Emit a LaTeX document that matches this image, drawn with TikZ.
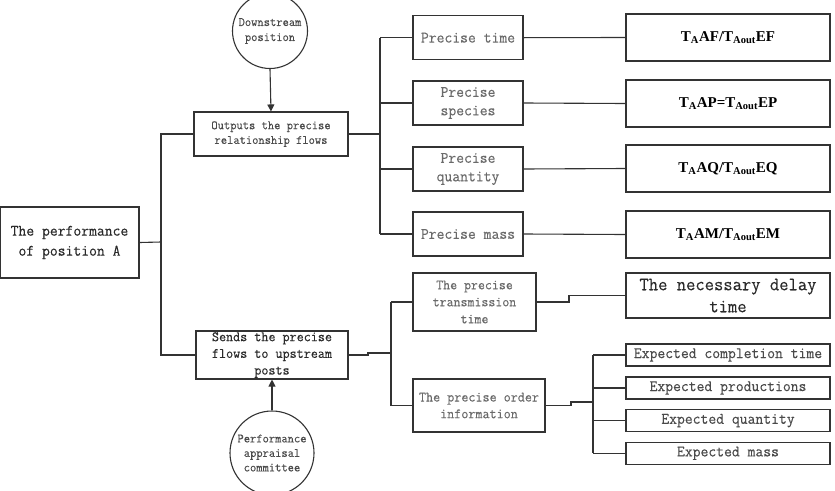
\documentclass[tikz,border=0pt]{standalone}
\usepackage{fontspec}
\setmainfont{Liberation Serif}
\newfontfamily\mono{Latin Modern Mono}[FakeStretch=0.952,FakeBold=0.2]
\usetikzlibrary{arrows.meta}
\definecolor{lc}{HTML}{333333}
\definecolor{tdark}{HTML}{2a2a2a}
\definecolor{tmid}{HTML}{4a4a4a}
\definecolor{tlight}{HTML}{6a6a6a}
\newcommand{\fs}[2]{\fontsize{#1}{#2}\selectfont}
\tikzset{
  bx/.style={draw=lc, line width=1.1pt, inner sep=0pt, align=center, text=tmid},
  cn/.style={draw=lc, line width=1.1pt},
  circ/.style={draw=lc, line width=1.1pt, circle, inner sep=0pt, align=center, text=tmid},
  arr/.style={cn, -{Triangle[length=7pt,width=7pt]}}
}
\begin{document}
\begin{tikzpicture}[x=1pt,y=-1pt]
\useasboundingbox (0,0) rectangle (835,490);
\clip (0,0) rectangle (835,490);
\fill[white] (0,0) rectangle (835,490);

% left box
\node[bx, text=tdark, font=\mono\fs{16}{20}, minimum width=139pt, minimum height=71pt] (L) at (69.5,242.5) {The performance\\of position A};

% middle boxes
\node[bx, font=\mono\fs{12.8}{14.7}, minimum width=154pt, minimum height=44pt] (out) at (271,134) {Outputs the precise\\relationship flows};
\node[bx, text=tdark, font=\mono\fs{14.4}{16.7}, minimum width=152pt, minimum height=48pt] (send) at (272,355) {Sends the precise\\flows to upstream\\posts};

% circles
\node[circ, font=\mono\fs{12.8}{15}, minimum size=75pt] (down) at (270,31) {Downstream\\position};
\node[circ, font=\mono\fs{12.8}{14.5}, minimum size=84pt] (perf) at (272,453) {Performance\\appraisal\\committee};

\draw[arr] (down.south) -- (out.north);
\draw[arr] (perf.north) -- (send.south);

% precise boxes
\tikzset{pbx/.style={bx, text=tlight, font=\mono\fs{16}{18.5}, minimum width=110pt, minimum height=44pt}}
\node[pbx] (p1) at (468,37.7) {Precise time};
\node[pbx] (p2) at (468,103) {Precise\\species};
\node[pbx] (p3) at (468,169) {Precise\\quantity};
\node[pbx] (p4) at (468,234) {Precise mass};

% formula boxes
\tikzset{fbx/.style={bx, font=\bfseries\fs{15}{18}, text=black, minimum width=204pt, minimum height=47pt}}
\node[fbx] (f1) at (728,37.5) {T\textsubscript{A}AF/T\textsubscript{Aout}EF};
\node[fbx] (f2) at (728,103.5) {T\textsubscript{A}AP=T\textsubscript{Aout}EP};
\node[fbx] (f3) at (728,168.5) {T\textsubscript{A}AQ/T\textsubscript{Aout}EQ};
\node[fbx] (f4) at (728,234.5) {T\textsubscript{A}AM/T\textsubscript{Aout}EM};

% lower middle boxes
\node[bx, text=tlight, font=\mono\fs{14.2}{17}, minimum width=123pt, minimum height=58pt] (tt) at (474.5,302) {The precise\\transmission\\time};
\node[bx, text=tlight, font=\mono\fs{14.4}{16.7}, minimum width=132pt, minimum height=53pt] (ord) at (479,405.5) {The precise order\\information};

% delay box
\node[bx, text=tdark, font=\mono\fs{19}{22}, minimum width=204pt, minimum height=45pt] (dly) at (728,295.5) {The necessary delay\\time};

% expected boxes
\tikzset{ebx/.style={bx, text=tmid, font=\mono\fs{16}{18}, minimum width=204pt, minimum height=22pt}}
\node[ebx] (e1) at (728,355) {Expected completion time};
\node[ebx] (e2) at (728,388) {Expected productions};
\node[ebx] (e3) at (728,420.7) {Expected quantity};
\node[ebx] (e4) at (728,453.3) {Expected mass};

% connectors
\coordinate (j1) at (161,242);
\draw[cn] (L.east) -- (j1);
\draw[cn] (out.west) -- (out.west -| j1) -- (send.west -| j1) -- (send.west);

\coordinate (j2) at (380,134);
\draw[cn] (out.east) -- (j2);
\draw[cn] (p1.west -| j2) -- (p4.west -| j2);
\foreach \n in {p1,p2,p3,p4} \draw[cn] (\n.west -| j2) -- (\n.west);
\foreach \i in {1,2,3,4} \draw[cn] (p\i.east) -- (f\i.west);

\coordinate (j3) at (368,355);
\coordinate (j3b) at (391,353);
\draw[cn] (send.east) -- (j3) -- ++(0,-2) -- (j3b);
\draw[cn] (tt.west -| j3b) -- (ord.west -| j3b);
\draw[cn] (tt.west -| j3b) -- (tt.west);
\draw[cn] (ord.west -| j3b) -- (ord.west);

\coordinate (j4) at (569,302);
\draw[cn] (tt.east) -- (j4) |- (dly.west);

\coordinate (j5) at (571,405.5);
\coordinate (j5b) at (593,402);
\draw[cn] (ord.east) -- (j5) -- (571,402) -- (j5b);
\draw[cn] (e1.west -| j5b) -- (e4.west -| j5b);
\foreach \n in {e1,e2,e3,e4} \draw[cn] (\n.west -| j5b) -- (\n.west);
\end{tikzpicture}
\end{document}
